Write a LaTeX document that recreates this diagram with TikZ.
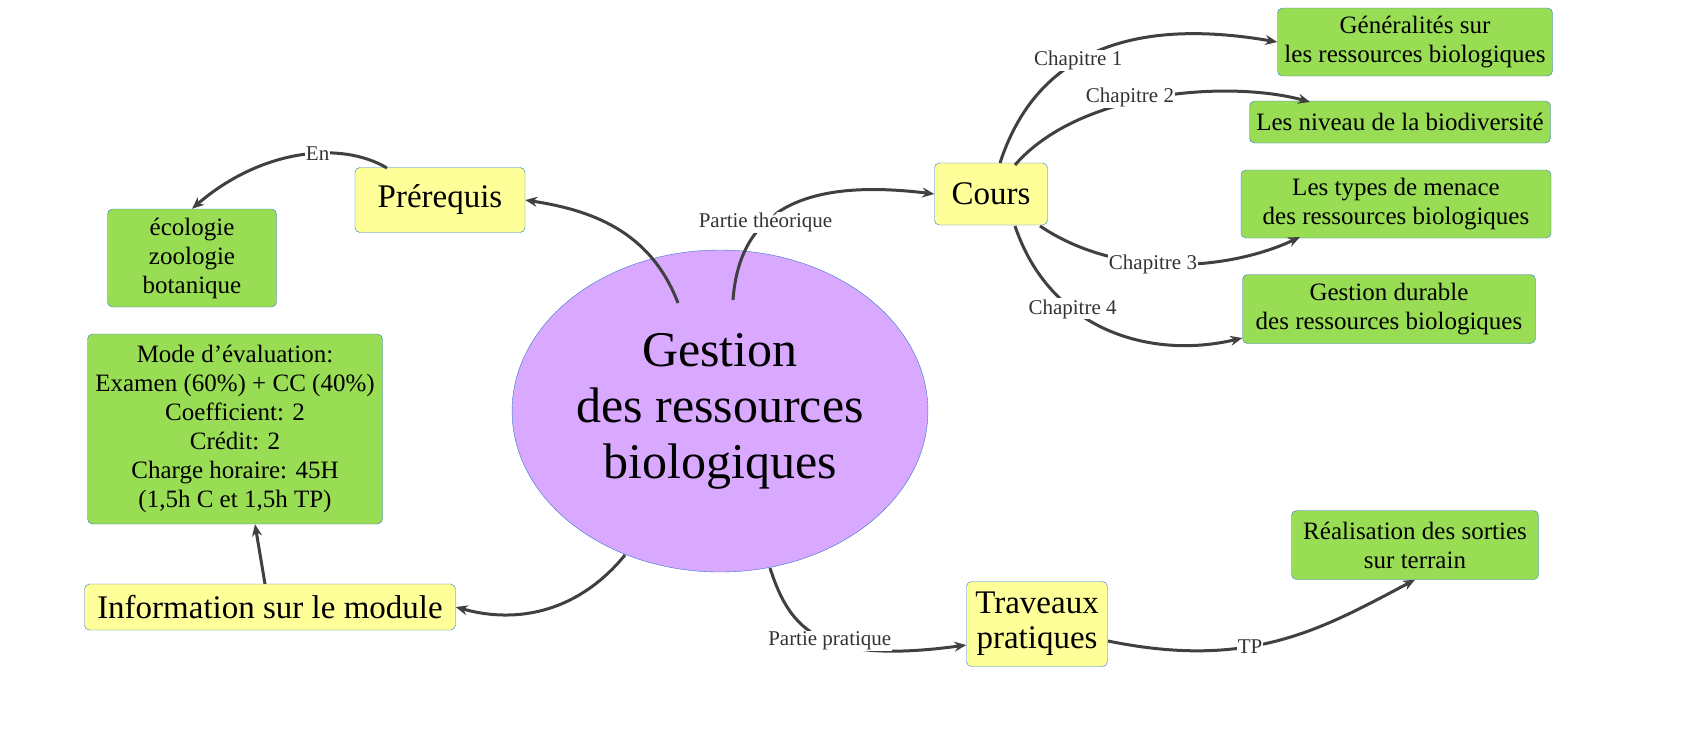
\documentclass[tikz,border=0pt]{standalone}
\usepackage{fontspec}
\setmainfont{Liberation Serif}
\usetikzlibrary{shapes.geometric,arrows.meta}
\definecolor{gr}{HTML}{99DD55}
\definecolor{yl}{HTML}{FFFF99}
\definecolor{lv}{HTML}{D9A8FF}
\definecolor{bd}{HTML}{3377CC}
\definecolor{ln}{HTML}{404040}
\tikzset{
 gbox/.style={draw=bd,fill=gr,rounded corners=5pt,align=center,font=\fontsize{25}{29}\selectfont,inner sep=0pt},
 ybox/.style={draw=bd,fill=yl,rounded corners=5pt,align=center,font=\fontsize{33}{35}\selectfont,inner sep=0pt},
 conn/.style={draw=ln,line width=3pt,-{Stealth[length=12pt,width=10pt]}},
 lab/.style={fill=white,inner sep=1pt,font=\fontsize{21}{23}\selectfont,text=ln!80!black}
}
\begin{document}
\begin{tikzpicture}[x=1pt,y=-1pt]
\useasboundingbox (0,0) rectangle (1697,745);
\node[ellipse,draw=bd,fill=lv,minimum width=400pt,minimum height=322pt,align=center,font=\fontsize{50}{56}\selectfont] (g) at (720,411) {Gestion\\des ressources\\ biologiques};
\node[ybox,minimum width=170pt,minimum height=65pt] (pre) at (440,200) {Prérequis};
\node[gbox,minimum width=169pt,minimum height=98pt] (eco) at (192,258) {écologie\\zoologie\\botanique};
\node[gbox,minimum width=295pt,minimum height=190pt] (mode) at (235,429) {Mode d'évaluation:\\Examen (60\%) + CC (40\%)\\Coefficient: 2\\Crédit: 2\\Charge horaire: 45H\\(1,5h C et 1,5h TP)};
\node[ybox,minimum width=371pt,minimum height=46pt] (info) at (270,607) {Information sur le module};
\node[ybox,minimum width=113pt,minimum height=62pt] (cours) at (991,194) {Cours};
\node[gbox,minimum width=275pt,minimum height=68pt] (c1) at (1415,42) {Généralités sur\\les ressources biologiques};
\node[gbox,minimum width=301pt,minimum height=42pt] (c2) at (1400,122) {Les niveau de la biodiversité};
\node[gbox,minimum width=310pt,minimum height=68pt] (c3) at (1396,204) {Les types de menace\\des ressources biologiques};
\node[gbox,minimum width=293pt,minimum height=69pt] (c4) at (1389,309) {Gestion durable\\des ressources biologiques};
\node[ybox,minimum width=141pt,minimum height=85pt] (tp) at (1037,624) {Traveaux\\pratiques};
\node[gbox,minimum width=247pt,minimum height=69pt] (real) at (1415,545) {Réalisation des sorties\\sur terrain};

\coordinate (a1) at (678,303);
\draw[conn] (a1) .. controls (650,230) and (590,210) .. (pre.east);
\coordinate (a2) at (387,168);
\draw[conn] (a2) .. controls (340,140) and (260,150) .. (eco.north) node[lab,pos=0.4] {En};
\coordinate (a3) at (733,300);
\draw[conn] (a3) .. controls (740,200) and (820,180) .. (cours.west) node[lab,pos=0.35] {Partie théorique};
\coordinate (a4) at (625,555);
\draw[conn] (a4) .. controls (580,610) and (520,625) .. (info.east);
\coordinate (a5) at (265,584);
\draw[conn] (a5) -- (mode.south -| 255,0);
\coordinate (a6) at (770,568);
\draw[conn] (a6) .. controls (790,630) and (820,665) .. (tp.west |- 0,645) node[lab,pos=0.55] {Partie pratique};
\coordinate (a7) at (1108,641);
\draw[conn] (a7) .. controls (1250,670) and (1320,630) .. (real.south) node[lab,pos=0.4] {TP};
\coordinate (b1) at (1000,163);
\draw[conn] (b1) .. controls (1040,40) and (1150,20) .. (c1.west) node[lab,pos=0.4] {Chapitre 1};
\coordinate (b2) at (1015,165);
\coordinate (e2) at (1310,102);
\draw[conn] (b2) .. controls (1080,90) and (1230,80) .. (e2);
\coordinate (b3) at (1040,226);
\coordinate (e3) at (1300,237);
\draw[conn] (b3) .. controls (1120,280) and (1230,270) .. (e3);
\coordinate (b4) at (1015,226);
\draw[conn] (b4) .. controls (1050,330) and (1150,360) .. (c4.west |- 0,338) node[lab,pos=0.35] {Chapitre 4};
\node[lab] at (1130,97) {Chapitre 2};
\node[lab] at (1153,264) {Chapitre 3};
\end{tikzpicture}
\end{document}
